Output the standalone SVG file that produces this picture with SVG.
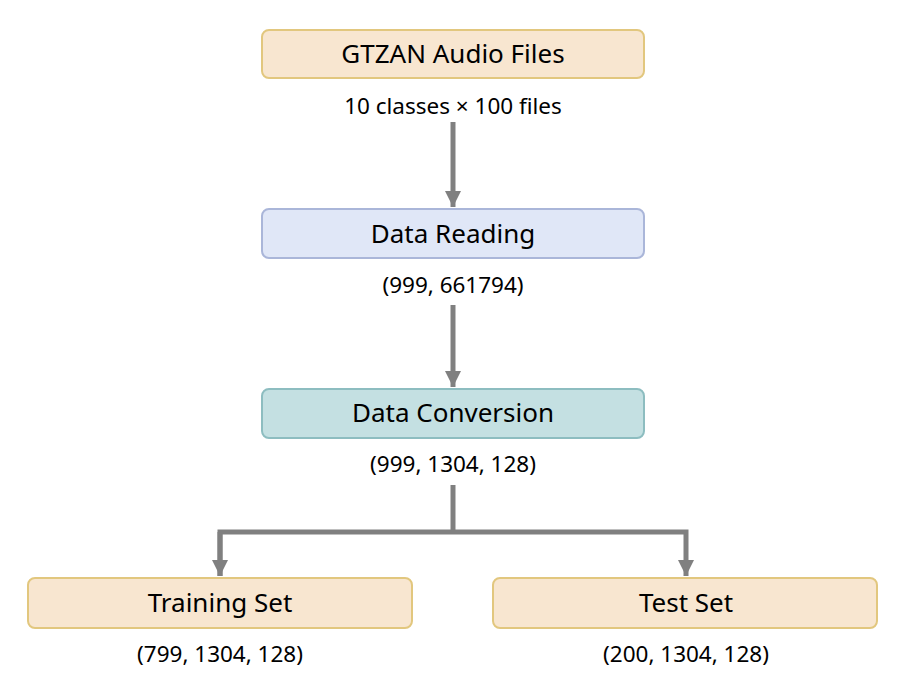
<svg xmlns="http://www.w3.org/2000/svg" width="902" height="698" viewBox="0 0 902 698">
<style>
.box{stroke-width:2}
.orange{fill:#f8e6d0;stroke:#e2c77e}
.blue{fill:#e0e7f7;stroke:#aab6d9}
.teal{fill:#c4e0e2;stroke:#8dbdc0}
.t{font-family:"Noto Sans","Open Sans",sans-serif;font-size:26px;fill:#000;text-anchor:middle}
.s{font-family:"Noto Sans","Open Sans",sans-serif;font-size:22.5px;fill:#000;text-anchor:middle}
.c{fill:none;stroke:#808080;stroke-width:5}
</style>
<defs>
<marker id="ah" viewBox="0 0 10 10" refX="10" refY="5" markerWidth="3.2" markerHeight="3.2" orient="auto" markerUnits="strokeWidth">
<path d="M0,0 L10,5 L0,10 Z" fill="#808080"/>
</marker>
</defs>
<rect width="902" height="698" fill="#fff"/>
<g id="connectors">
<path class="c" d="M453,122 V207" marker-end="url(#ah)"/>
<path class="c" d="M453,305 V387" marker-end="url(#ah)"/>
<path class="c" d="M453,485 V532"/>
<path class="c" d="M220,576 V532 H686 V576" marker-end="url(#ah)"/>
<path class="c" d="M220,532 V576" marker-end="url(#ah)"/>
</g>
<g id="gtzan">
<rect class="box orange" x="262" y="30" width="382" height="48" rx="7"/>
<text class="t" x="453" y="63">GTZAN Audio Files</text>
<text class="s" x="453" y="114">10 classes × 100 files</text>
</g>
<g id="reading">
<rect class="box blue" x="262" y="209" width="382" height="49" rx="7"/>
<text class="t" x="453" y="243">Data Reading</text>
<text class="s" x="453" y="293">(999, 661794)</text>
</g>
<g id="conversion">
<rect class="box teal" x="262" y="389" width="382" height="49" rx="7"/>
<text class="t" x="453" y="422">Data Conversion</text>
<text class="s" x="453" y="472">(999, 1304, 128)</text>
</g>
<g id="training">
<rect class="box orange" x="28" y="578" width="384" height="50" rx="7"/>
<text class="t" x="220" y="612">Training Set</text>
<text class="s" x="220" y="662">(799, 1304, 128)</text>
</g>
<g id="test">
<rect class="box orange" x="493" y="578" width="384" height="50" rx="7"/>
<text class="t" x="686" y="612">Test Set</text>
<text class="s" x="686" y="662">(200, 1304, 128)</text>
</g>
</svg>
